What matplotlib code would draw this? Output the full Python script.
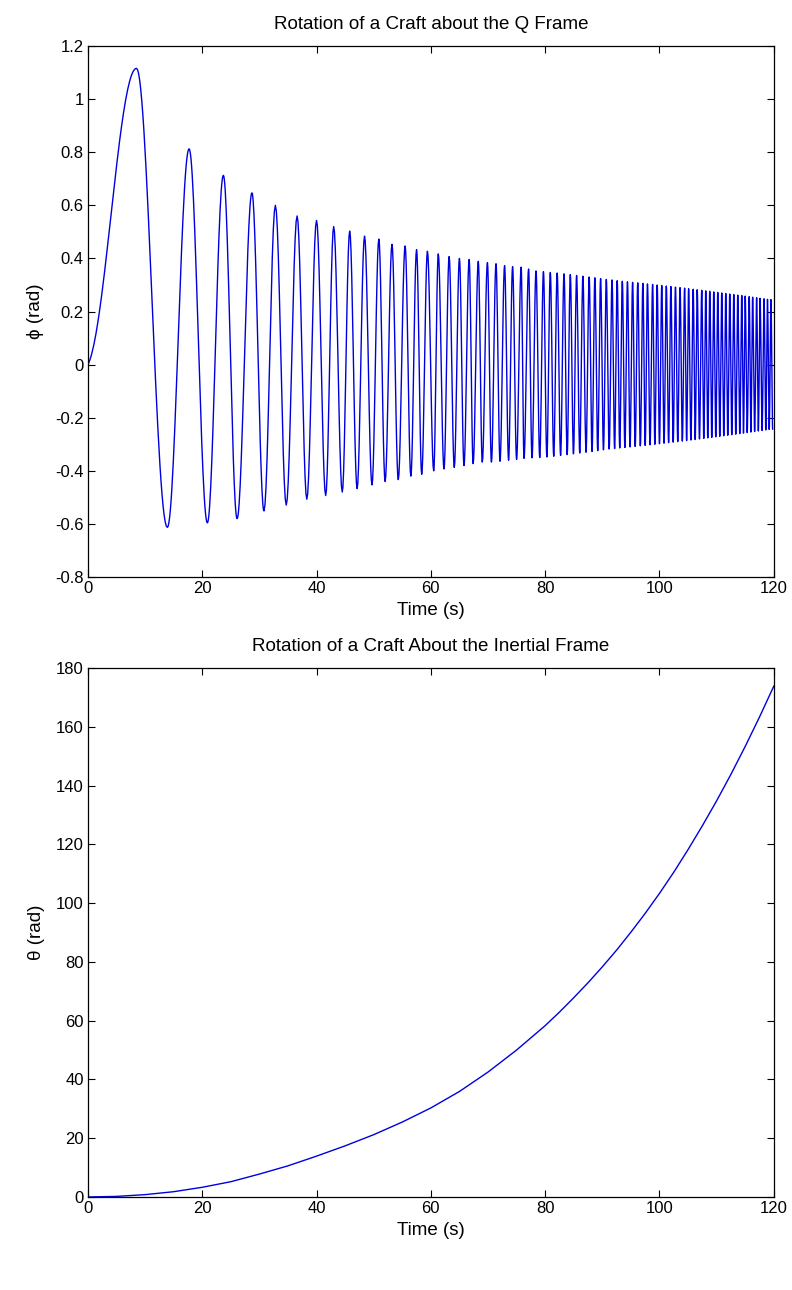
import numpy as np
import matplotlib
matplotlib.use("Agg")
import matplotlib.pyplot as plt

plt.rcParams['font.family'] = ['Liberation Sans', 'DejaVu Sans']
plt.rcParams['axes.unicode_minus'] = False

# ---------------- data ----------------
# Top panel: local maxima / minima of phi (rad) versus time (s)
peak_times = [8.5, 17.7, 23.7, 28.7, 32.8, 36.6, 40.0, 43.0, 45.8, 48.4, 50.9,
              53.2, 55.5, 57.5, 59.4, 61.3, 63.2, 65.0, 66.7, 68.3, 69.9, 71.4,
              72.9, 74.3, 75.8, 77.1, 78.4, 79.7, 80.9, 82.1, 83.3, 84.4, 85.5,
              86.6, 87.7, 88.7, 89.7, 90.7, 91.7, 92.6, 93.5, 94.4, 95.3, 96.2,
              97.1, 97.9, 98.8, 99.6, 100.4, 101.2, 102.0, 102.8, 103.6, 104.4,
              105.1, 105.9, 106.6, 107.4, 108.1, 108.8, 109.5, 110.2, 110.9,
              111.6, 112.3, 113.0, 113.7, 114.4, 115.0, 115.7, 116.3, 117.0,
              117.6, 118.3, 118.9, 119.5]
peak_values = [1.116, 0.813, 0.713, 0.647, 0.600, 0.560, 0.543, 0.520, 0.503,
               0.484, 0.473, 0.453, 0.447, 0.433, 0.427, 0.417, 0.407, 0.400,
               0.396, 0.389, 0.384, 0.380, 0.373, 0.369, 0.367, 0.360, 0.353,
               0.350, 0.347, 0.345, 0.342, 0.339, 0.336, 0.333, 0.330, 0.327,
               0.324, 0.321, 0.319, 0.316, 0.314, 0.312, 0.310, 0.308, 0.306,
               0.304, 0.302, 0.300, 0.298, 0.296, 0.294, 0.292, 0.290, 0.288,
               0.286, 0.284, 0.282, 0.280, 0.278, 0.276, 0.274, 0.272, 0.270,
               0.268, 0.266, 0.264, 0.262, 0.260, 0.258, 0.256, 0.254, 0.252,
               0.250, 0.248, 0.246, 0.245]
trough_times = [13.9, 20.9, 26.1, 30.8, 34.7, 38.3, 41.6, 44.5, 47.1, 49.7,
                52.0, 54.3, 56.5, 58.4, 60.5, 62.3, 64.1, 65.8, 67.4, 69.0,
                70.6, 72.1, 73.6, 75.0, 76.3, 77.7, 79.05, 80.3, 81.5, 82.7,
                83.85, 84.95, 86.05, 87.15, 88.2, 89.2, 90.2, 91.2, 92.15,
                93.05, 93.95, 94.85, 95.75, 96.65, 97.5, 98.35, 99.2, 100.0,
                100.8, 101.6, 102.4, 103.2, 104.0, 104.75, 105.5, 106.25, 107.0,
                107.75, 108.45, 109.15, 109.85, 110.55, 111.25, 111.95, 112.65,
                113.35, 114.05, 114.7, 115.35, 116.0, 116.65, 117.3, 117.95,
                118.6, 119.2, 119.8]
trough_values = [-0.613, -0.596, -0.580, -0.551, -0.529, -0.507, -0.493, -0.480,
                 -0.467, -0.453, -0.440, -0.433, -0.420, -0.413, -0.400, -0.393,
                 -0.387, -0.380, -0.373, -0.367, -0.367, -0.364, -0.360, -0.357,
                 -0.353, -0.351, -0.350, -0.348, -0.345, -0.342, -0.339, -0.336,
                 -0.333, -0.330, -0.327, -0.324, -0.321, -0.318, -0.316, -0.314,
                 -0.312, -0.310, -0.308, -0.306, -0.304, -0.302, -0.300, -0.298,
                 -0.296, -0.294, -0.292, -0.290, -0.288, -0.286, -0.284, -0.282,
                 -0.280, -0.278, -0.276, -0.274, -0.272, -0.270, -0.268, -0.266,
                 -0.264, -0.262, -0.260, -0.258, -0.256, -0.254, -0.252, -0.250,
                 -0.248, -0.246, -0.244, -0.243]

# Bottom panel: theta (rad) versus time (s)
theta_times = [0, 5, 10, 15, 20, 25, 30, 35, 40, 45, 50, 55, 60, 65, 70, 75,
               80, 82.5, 85, 87.5, 90, 92.5, 95, 97.5, 100, 102.5, 105, 107.5,
               110, 112.5, 115, 117.5, 120]
theta_values = [0.0, 0.2, 0.8, 1.8, 3.3, 5.2, 7.8, 10.6, 13.9, 17.4, 21.2, 25.5,
                30.3, 35.9, 42.5, 50.0, 58.3, 62.9, 67.8, 72.9, 78.3, 84.0,
                90.1, 96.5, 103.3, 110.5, 118.2, 126.3, 134.8, 143.8, 153.3,
                163.3, 173.8]

x_ticks = [0, 20, 40, 60, 80, 100, 120]
phi_ticks = [-0.8, -0.6, -0.4, -0.2, 0, 0.2, 0.4, 0.6, 0.8, 1, 1.2]
phi_ticklabels = ['-0.8', '-0.6', '-0.4', '-0.2', '0', '0.2', '0.4', '0.6',
                  '0.8', '1', '1.2']
theta_ticks = [0, 20, 40, 60, 80, 100, 120, 140, 160, 180]

# ---------------- smooth line through the read extrema ----------
ext = sorted(list(zip(peak_times, peak_values)) + list(zip(trough_times, trough_values)))
tt = [0.0]
vv = [0.0]
s = np.linspace(0, 1, 50)[1:]
t1, v1 = ext[0]
tt += list(s * t1)
vv += list(v1 * (0.2 * np.sin(np.pi / 2 * s) + 0.8 * (1 - np.cos(np.pi * s)) / 2))
for (ta, va), (tb, vb) in zip(ext[:-1], ext[1:]):
    n = 30 if tb - ta > 2 else 12
    s = np.linspace(0, 1, n)[1:]
    tt += list(ta + s * (tb - ta))
    vv += list(va + (vb - va) * (1 - np.cos(np.pi * s)) / 2)

# ---------------- figure ----------------
fig = plt.figure(figsize=(7.92, 12.90), dpi=100)
ax1 = fig.add_axes([0.111, 0.5527, 0.866, 0.4116])
ax2 = fig.add_axes([0.111, 0.0721, 0.866, 0.4101])

line_color = '#0000dd'
ax1.plot(tt, vv, color=line_color, lw=1.0)
ax2.plot(theta_times, theta_values, color=line_color, lw=1.0)

ax1.set_xlim(0, 120)
ax1.set_ylim(-0.8, 1.2)
ax1.set_xticks(x_ticks)
ax1.set_yticks(phi_ticks)
ax1.set_yticklabels(phi_ticklabels)
ax1.set_title('Rotation of a Craft about the Q Frame', fontsize=13.5, pad=12)
ax1.set_xlabel('Time (s)', fontsize=13.5, labelpad=4)
ax1.set_ylabel('\u03d5 (rad)', fontsize=13.5, labelpad=8)

ax2.set_xlim(0, 120)
ax2.set_ylim(0, 180)
ax2.set_xticks(x_ticks)
ax2.set_yticks(theta_ticks)
ax2.set_title('Rotation of a Craft About the Inertial Frame', fontsize=13.5, pad=12)
ax2.set_xlabel('Time (s)', fontsize=13.5, labelpad=4)
ax2.set_ylabel('\u03b8 (rad)', fontsize=13.5, labelpad=8)

for ax in (ax1, ax2):
    ax.tick_params(direction='in', top=True, right=True, length=5, width=0.8,
                   labelsize=12, pad=3)
    for sp in ax.spines.values():
        sp.set_linewidth(0.9)
        sp.set_color('black')

fig.savefig('out.png', dpi=100)
